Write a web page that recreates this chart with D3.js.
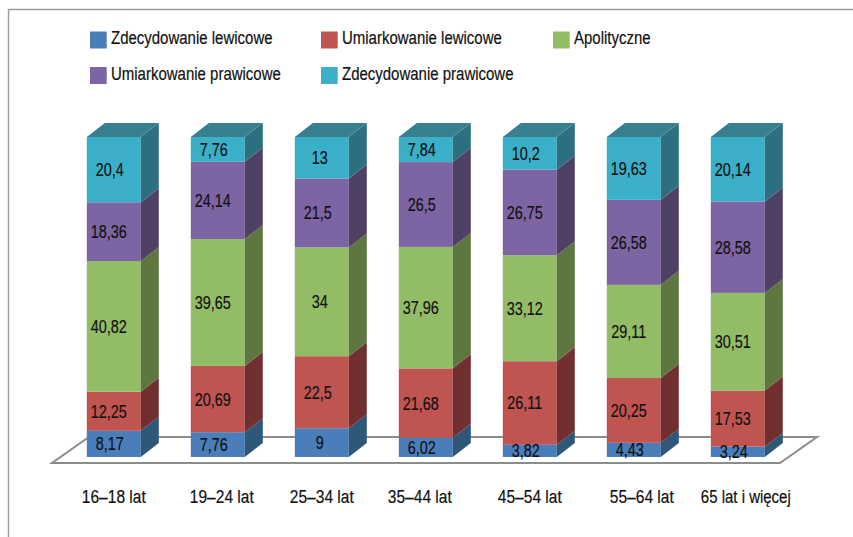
<!DOCTYPE html>
<html lang="pl">
<head>
<meta charset="UTF-8">
<title>Poglądy polityczne</title>
<script src="https://d3js.org/d3.v7.min.js"></script>
<style>
    html, body { margin: 0; padding: 0; background: #fff; }
    svg { display: block; }
    text { font-family: "Liberation Sans", sans-serif; fill: #111; stroke: #111; stroke-width: 0.2px; font-size: 18.5px; }
</style>
</head>
<body>
<div id="chart"></div>
<script>
const categories = ["16–18 lat", "19–24 lat", "25–34 lat", "35–44 lat", "45–54 lat", "55–64 lat", "65 lat i więcej"];
const seriesNames = ["Zdecydowanie lewicowe", "Umiarkowanie lewicowe", "Apolityczne", "Umiarkowanie prawicowe", "Zdecydowanie prawicowe"];
const zdecLewicowe = [8.17, 7.76, 9, 6.02, 3.82, 4.43, 3.24];
const umLewicowe = [12.25, 20.69, 22.5, 21.68, 26.11, 20.25, 17.53];
const apolityczne = [40.82, 39.65, 34, 37.96, 33.12, 29.11, 30.51];
const umPrawicowe = [18.36, 24.14, 21.5, 26.5, 26.75, 26.58, 28.58];
const zdecPrawicowe = [20.4, 7.76, 13, 7.84, 10.2, 19.63, 20.14];
const seriesValues = [zdecLewicowe, umLewicowe, apolityczne, umPrawicowe, zdecPrawicowe];

const frontColors = ["#4a7ebb", "#bf5451", "#93bc66", "#7d65a3", "#3bafc8"];
const sideColors = ["#2f5878", "#722f30", "#5e7640", "#4f4166", "#2c7080"];
const topColor = "#36808f";

const width = 853, height = 537;
const svg = d3.select("#chart").append("svg").attr("width", width).attr("height", height);

// the original font is condensed, so squeeze the text horizontally
function label(tx, ty, str, anchor, squeeze) {
    svg.append("text")
        .attr("transform", "translate(" + tx + "," + ty + ") scale(" + squeeze + ",1)")
        .attr("dy", "0.35em")
        .attr("text-anchor", anchor)
        .text(str);
}

// frame, only top and left edge are visible
svg.append("path").attr("d", d3.line()([[853, 9.5], [8.5, 9.5], [8.5, 537]]))
    .attr("fill", "none").attr("stroke", "#9a9a9a").attr("stroke-width", 1.4);

// legend
const legendCols = [90, 321, 553];
const legendRows = [40, 75.5];
seriesNames.forEach((name, i) => {
    const lx = legendCols[i % 3], ly = legendRows[Math.floor(i / 3)];
    svg.append("rect").attr("x", lx).attr("y", ly - 8.5).attr("width", 16.7).attr("height", 17).attr("fill", frontColors[i]);
    label(lx + 21, ly - 2, name, "start", 0.81);
});

const x = d3.scaleBand().domain(categories).range([61.8, 789.8]).paddingInner(0.4808).paddingOuter(0.2404);
const y = d3.scaleLinear().domain([0, 100]).range([457, 137]);
const depthX = 18, depthY = -14;
// axis labels are not quite under their bars in the original
const labelNudge = [0, 4, 0, -6, 0, 8, 8];

// floor of the 3d chart
svg.append("polygon")
    .attr("points", [[52, 463], [780, 463], [817, 437], [89, 437]].join(" "))
    .attr("fill", "#fff").attr("stroke", "#8c8c8c").attr("stroke-width", 2);

const line = d3.line();
categories.forEach((cat, c) => {
    const bx = x(cat), bw = x.bandwidth();
    let acc = 0;
    seriesValues.forEach((vals, s) => {
        const v = vals[c];
        const y0 = y(acc), y1 = y(acc + v);
        svg.append("rect").attr("x", bx).attr("y", y1).attr("width", bw).attr("height", y0 - y1).attr("fill", frontColors[s]);
        svg.append("path")
            .attr("d", line([[bx + bw, y0], [bx + bw + depthX, y0 + depthY], [bx + bw + depthX, y1 + depthY], [bx + bw, y1]]) + "Z")
            .attr("fill", sideColors[s]);
        acc += v;
    });
    const yt = y(acc);
    svg.append("path")
        .attr("d", line([[bx, yt], [bx + depthX, yt + depthY], [bx + bw + depthX, yt + depthY], [bx + bw, yt]]) + "Z")
        .attr("fill", topColor);
    // data labels sit a bit left of the bar centre
    acc = 0;
    seriesValues.forEach(vals => {
        const v = vals[c];
        const str = String(v).replace(".", ",");
        const off = Number.isInteger(v) ? -2 : (str.length >= 5 ? -5 : -4);
        label(bx + bw / 2 + off, y(acc + v / 2), str, "middle", 0.78);
        acc += v;
    });
    label(bx + bw / 2 + labelNudge[c], 497, cat, "middle", c === 6 ? 0.81 : 0.84);
});
</script>
</body>
</html>
